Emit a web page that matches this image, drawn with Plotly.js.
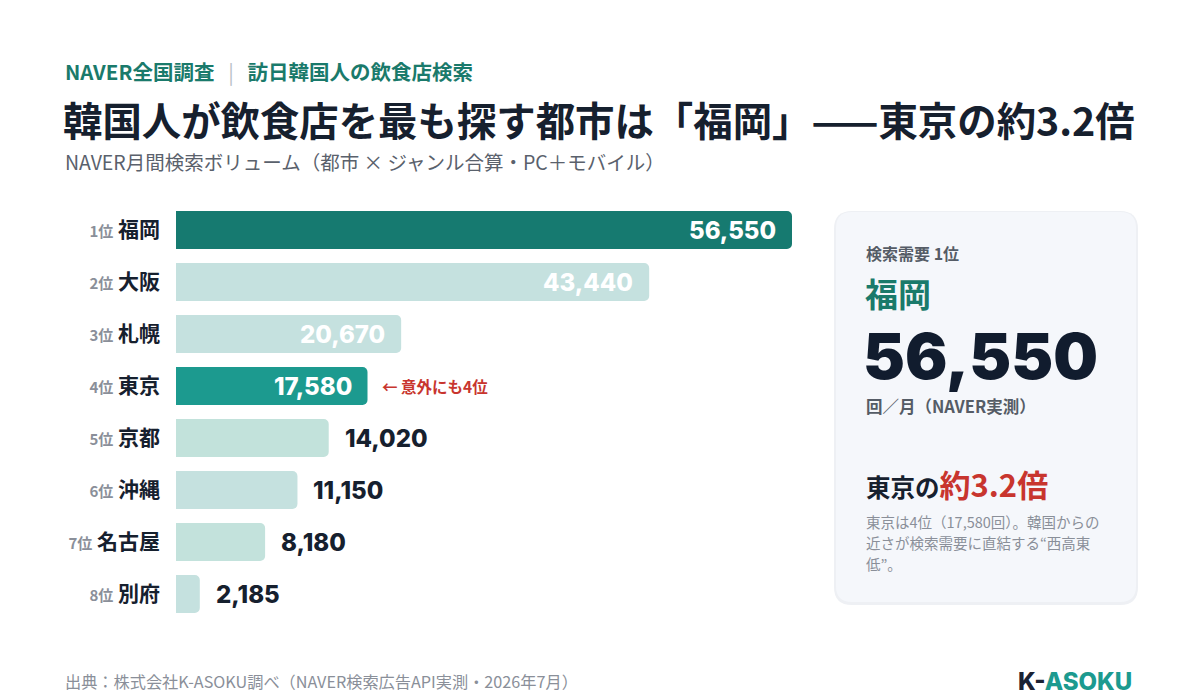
<!DOCTYPE html>
<html><head><meta charset="utf-8">
<script src="https://cdn.plot.ly/plotly-3.0.1.min.js"></script>
<style>html,body{margin:0;padding:0;background:#fff;}#chart{width:1200px;height:700px;}</style>
</head><body><div id="chart"></div>
<script>
// ---- data ----
const ranks = ["1位","2位","3位","4位","5位","6位","7位","8位"];
const cities = ["福岡","大阪","札幌","東京","京都","沖縄","名古屋","別府"];
const searches = [56550, 43440, 20670, 17580, 14020, 11150, 8180, 2185];
const tokyoRatio = "3.2";

// ---- styles ----
const FONT = "Inter, 'Noto Sans CJK JP', 'Noto Sans', sans-serif";
const JP = "'Noto Sans CJK JP', Inter, sans-serif";
const DARK = "#16202e", TEAL = "#1a7a6b", TEAL2 = "#1c9a8f", RED = "#c8352e";
const barColors = ["#167a70", "#c5e1df", "#c5e1df", "#1c9a8f", "#c2e2db", "#c5e1df", "#c3e2dc", "#c5e1df"];
const insideCount = 4;

// plot area pixel box
const L = 176, R = 800, T = 204, B = 620;
const px = x => (x - L) / (R - L);
const py = y => (B - y) / (B - T);
const fmt = v => v.toLocaleString("en-US");

const trace = {
  type: "bar", orientation: "h",
  x: searches, y: cities,
  marker: { color: barColors, cornerradius: 5 },
  width: 0.73,
  hoverinfo: "skip"
};

const ann = [];
function txt(x, y, text, size, color, opts) {
  ann.push(Object.assign({
    xref: "paper", yref: "paper", x: px(x), y: py(y), text: text,
    showarrow: false, xanchor: "left", yanchor: "middle",
    font: { family: JP, size: size, color: color }
  }, opts || {}));
}

// value labels
searches.forEach((v, i) => {
  const inside = i < insideCount;
  ann.push({
    xref: "x", yref: "y", x: v, y: cities[i], text: fmt(v),
    showarrow: false, xanchor: inside ? "right" : "left", yanchor: "middle",
    xshift: inside ? -14 : 14,
    font: { family: FONT, size: 24, weight: 800, color: inside ? "#ffffff" : DARK }
  });
});
// callout on Tokyo
ann.push({
  xref: "x", yref: "y", x: searches[3], y: cities[3], text: "<b>← 意外にも4位</b>",
  showarrow: false, xanchor: "left", yanchor: "middle", xshift: 12,
  font: { family: JP, size: 15.5, color: RED }
});

// header
txt(63, 71, "<b>NAVER全国調査</b>   <span style='color:#b9bec6'>|</span>   <b>訪日韓国人の飲食店検索</b>", 20.5, TEAL);
txt(61, 119, "<b>韓国人が飲食店を最も探す都市は「福岡」——東京の約3.2倍</b>", 39.4, DARK);
txt(63, 162, "NAVER月間検索ボリューム（都市 × ジャンル合算・PC＋モバイル）", 19.5, "#5a616c");
// footer
txt(63, 681, "出典：株式会社K-ASOKU調べ（NAVER検索広告API実測・2026年7月）", 16.2, "#8a8f99");
ann.push({ xref: "paper", yref: "paper", x: px(1134), y: py(681), xanchor: "right", yanchor: "middle",
  showarrow: false, text: "<span style='color:#1a2233'>K-</span>ASOKU",
  font: { family: FONT, size: 24, weight: 800, color: TEAL2 } });

// panel
const pL = 836, pR = 1136, pT = 212, pB = 602, rad = 16;
const pathOf = (l, r, t, b, rr) => {
  const rx = rr / (R - L), ry = rr / (B - T);
  const X1 = px(l), X2 = px(r), Y1 = py(t), Y2 = py(b);
  return `M${X1 + rx},${Y1} L${X2 - rx},${Y1} Q${X2},${Y1} ${X2},${Y1 - ry} L${X2},${Y2 + ry} Q${X2},${Y2} ${X2 - rx},${Y2} L${X1 + rx},${Y2} Q${X1},${Y2} ${X1},${Y2 + ry} L${X1},${Y1 - ry} Q${X1},${Y1} ${X1 + rx},${Y1} Z`;
};
const shapes = [
  { type: "path", xref: "paper", yref: "paper", path: pathOf(pL - 2, pR + 2, pT - 1, pB + 3, rad + 2), fillcolor: "#eef0f4", line: { width: 0 }, layer: "below" },
  { type: "path", xref: "paper", yref: "paper", path: pathOf(pL, pR, pT, pB, rad), fillcolor: "#f5f7fb", line: { width: 0 }, layer: "below" }
];
txt(864, 253, "<b>検索需要 1位</b>", 16, "#555c66");
txt(863, 293, "<b>" + cities[0] + "</b>", 33, TEAL);
txt(861, 356, fmt(searches[0]), 63, "#111c2e", { font: { family: FONT, size: 63, color: "#111c2e", weight: 900 } });
txt(864, 406, "<b>回／月（NAVER実測）</b>", 16.5, "#555c66");
txt(864, 483, "<b>" + cities[3] + "の<span style='color:" + RED + ";font-size:31px'>約" + tokyoRatio + "倍</span></b>", 24.5, DARK);
txt(864, 521, "東京は4位（" + fmt(searches[3]) + "回）。韓国からの", 14.5, "#8a8f99");
txt(864, 542, "近さが検索需要に直結する“西高東", 14.5, "#8a8f99");
txt(864, 563, "低”。", 14.5, "#8a8f99");

const layout = {
  width: 1200, height: 700,
  margin: { l: L, r: 1200 - R, t: T, b: 700 - B, pad: 0 },
  paper_bgcolor: "#ffffff", plot_bgcolor: "#ffffff",
  showlegend: false,
  xaxis: { range: [0, searches[0] * (R - L) / 616], visible: false, fixedrange: true },
  yaxis: {
    autorange: "reversed", tickmode: "array", tickvals: cities,
    ticktext: cities.map((c, i) => "<span style='font-size:15px;color:#8a8f99'><b>" + ranks[i] + "</b></span> <b>" + c + "</b>"),
    tickfont: { family: JP, size: 21, color: DARK },
    ticks: "", showline: false, showgrid: false, zeroline: false, ticklabelstandoff: 15, fixedrange: true
  },
  annotations: ann, shapes: shapes
};
Plotly.newPlot("chart", [trace], layout, { displayModeBar: false, staticPlot: true });
</script></body></html>
